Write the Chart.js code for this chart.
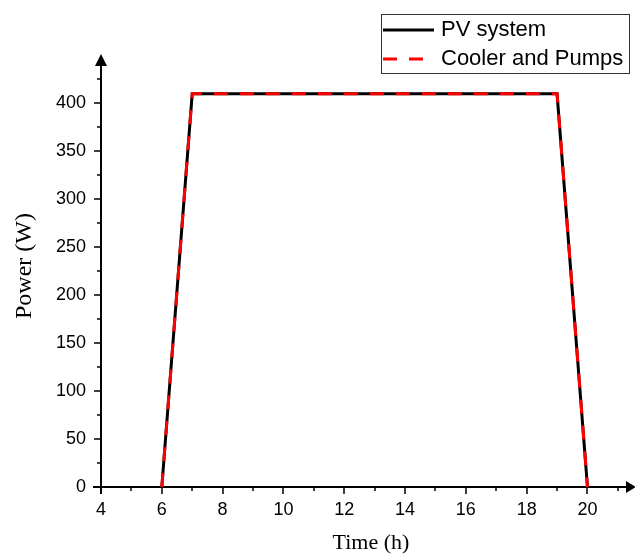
<!DOCTYPE html>
<html>
<head>
<meta charset="utf-8">
<script src="https://cdn.jsdelivr.net/npm/chart.js@4/dist/chart.umd.min.js"></script>
<style>
  html, body { margin: 0; padding: 0; background: #fff; }
  #wrap { width: 635px; height: 554px; }
</style>
</head>
<body>
<div id="wrap"><canvas id="powerChart" width="635" height="554"></canvas></div>
<script>
// data
const tempo = [6, 7, 19, 20];
const pvSystem = [0, 410, 410, 0];
const coolerPumps = [0, 410, 410, 0];
const xTicks = [4, 6, 8, 10, 12, 14, 16, 18, 20];
const xMinor = [5, 7, 9, 11, 13, 15, 17, 19, 21];
const yTicks = [0, 50, 100, 150, 200, 250, 300, 350, 400];
const yMinor = [25, 75, 125, 175, 225, 275, 325, 375, 425];

const pontos = vals => tempo.map((t, i) => ({ x: t, y: vals[i] }));

// eixos com setas, ticks, titulos e legenda
const eixosPlugin = {
  id: 'eixos',
  beforeDatasetsDraw(chart) {
    const { ctx, chartArea: a, scales: { x, y } } = chart;
    ctx.save();
    ctx.strokeStyle = '#000';
    ctx.fillStyle = '#000';
    ctx.lineWidth = 2;
    const y0 = y.getPixelForValue(0);
    const x0 = x.getPixelForValue(4);
    // eixo x
    ctx.beginPath();
    ctx.moveTo(x0 - 8, y0);
    ctx.lineTo(a.right, y0);
    ctx.stroke();
    ctx.beginPath();
    ctx.moveTo(a.right - 1, y0 - 6);
    ctx.lineTo(a.right + 9, y0);
    ctx.lineTo(a.right - 1, y0 + 6);
    ctx.closePath();
    ctx.fill();
    // eixo y
    ctx.beginPath();
    ctx.moveTo(x0, y0 + 7);
    ctx.lineTo(x0, a.top);
    ctx.stroke();
    ctx.beginPath();
    ctx.moveTo(x0 - 6, a.top + 1);
    ctx.lineTo(x0, a.top - 11);
    ctx.lineTo(x0 + 6, a.top + 1);
    ctx.closePath();
    ctx.fill();
    // ticks
    ctx.lineWidth = 1.5;
    ctx.beginPath();
    xTicks.forEach(v => { const p = Math.round(x.getPixelForValue(v)); ctx.moveTo(p, y0); ctx.lineTo(p, y0 + 7); });
    xMinor.forEach(v => { const p = Math.round(x.getPixelForValue(v)); ctx.moveTo(p, y0); ctx.lineTo(p, y0 + 4); });
    yTicks.forEach(v => { const p = Math.round(y.getPixelForValue(v)); ctx.moveTo(x0, p); ctx.lineTo(x0 - 7, p); });
    yMinor.forEach(v => { const p = Math.round(y.getPixelForValue(v)); ctx.moveTo(x0, p); ctx.lineTo(x0 - 4, p); });
    ctx.stroke();
    // titulos
    ctx.font = '22px "Liberation Serif", "Times New Roman", serif';
    ctx.textAlign = 'center';
    ctx.textBaseline = 'middle';
    ctx.fillText('Time (h)', 371, 543);
    ctx.save();
    ctx.translate(25, 266);
    ctx.rotate(-Math.PI / 2);
    ctx.font = '24px "Liberation Serif", "Times New Roman", serif';
    ctx.fillText('Power (W)', 0, 0);
    ctx.restore();
    ctx.restore();
  },
  afterDatasetsDraw(chart) {
    const { ctx } = chart;
    const ds = chart.data.datasets;
    ctx.save();
    ctx.fillStyle = '#fff';
    ctx.fillRect(381, 14, 248, 59);
    ctx.strokeStyle = '#333';
    ctx.lineWidth = 1;
    ctx.strokeRect(381.5, 14.5, 248, 59);
    ctx.font = '22px "Liberation Sans", Arial, sans-serif';
    ctx.textAlign = 'left';
    ctx.textBaseline = 'middle';
    const linhas = [30, 59];
    ds.forEach((d, i) => {
      ctx.strokeStyle = d.borderColor;
      ctx.lineWidth = 3;
      ctx.setLineDash(d.borderDash || []);
      ctx.beginPath();
      ctx.moveTo(383, linhas[i]);
      ctx.lineTo(434, linhas[i]);
      ctx.stroke();
      ctx.setLineDash([]);
      ctx.fillStyle = '#000';
      ctx.fillText(d.label, 441, linhas[i]);
    });
    ctx.restore();
  }
};

const ctx = document.getElementById('powerChart').getContext('2d');
new Chart(ctx, {
  type: 'line',
  data: {
    datasets: [{
      label: 'PV system',
      data: pontos(pvSystem),
      borderColor: '#000',
      borderWidth: 3,
      pointRadius: 0,
      tension: 0,
      order: 2
    }, {
      label: 'Cooler and Pumps',
      data: pontos(coolerPumps),
      borderColor: '#ff0000',
      borderWidth: 3,
      borderDash: [14, 12],
      pointRadius: 0,
      tension: 0,
      order: 1
    }]
  },
  options: {
    responsive: false,
    animation: false,
    layout: { padding: { left: 0, top: 65, right: 8, bottom: 0 } },
    plugins: { legend: { display: false }, tooltip: { enabled: false } },
    scales: {
      x: {
        type: 'linear',
        min: 4,
        max: 21.3,
        afterBuildTicks: s => { s.ticks = xTicks.map(v => ({ value: v })); },
        afterFit: s => { s.height = 67; },
        grid: { display: true, drawOnChartArea: false, drawTicks: false },
        border: { display: false },
        ticks: { color: '#000', padding: 12, maxRotation: 0, autoSkip: false,
                 font: { family: '"Liberation Sans", Arial, sans-serif', size: 18 } }
      },
      y: {
        min: 0,
        max: 440,
        afterBuildTicks: s => { s.ticks = yTicks.map(v => ({ value: v })); },
        afterFit: s => { s.width = 101; },
        grid: { display: true, drawOnChartArea: false, drawTicks: false },
        border: { display: false },
        ticks: { color: '#000', padding: 15,
                 font: { family: '"Liberation Sans", Arial, sans-serif', size: 18 } }
      }
    }
  },
  plugins: [eixosPlugin]
});
</script>
</body>
</html>
